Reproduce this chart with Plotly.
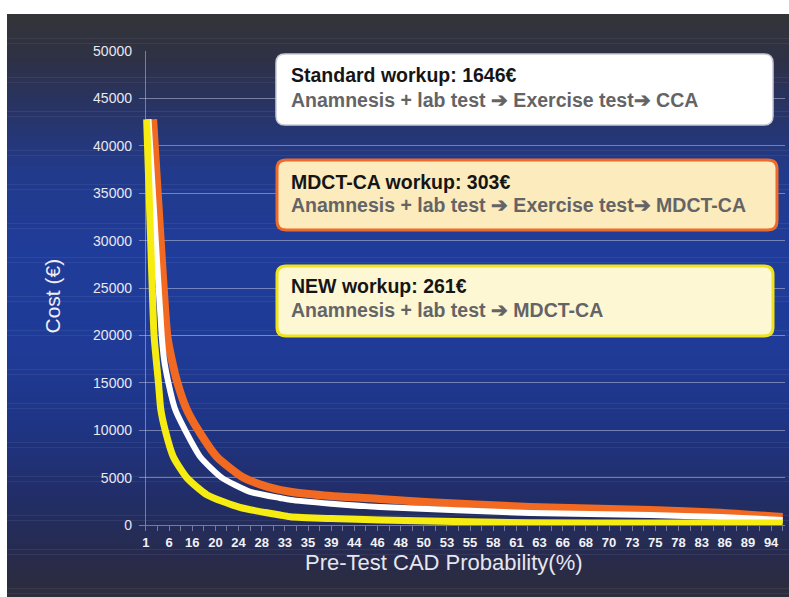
import plotly.graph_objects as go

# ---------------- data ----------------
x_labels = ["1", "6", "16", "20", "24", "28", "33", "35", "39", "44", "46", "48", "50", "53",
            "55", "58", "61", "63", "66", "68", "70", "73", "75", "78", "83", "86", "89", "94"]

# x positions are in category-index units (0 = "1", 27 = "94")
orange_x = [0.31, 0.61, 0.92, 1.11, 1.36, 1.76, 2.26, 3.06, 4.21, 5.22, 6.23, 8.0, 10.11, 12.27, 16.6, 21.8, 24.8, 27.5]
orange_y = [42800, 31000, 20000, 17500, 15000, 12200, 10000, 7200, 5000, 4050, 3500, 3050, 2750, 2400, 1900, 1580, 1300, 840]

white_x = [0.11, 0.40, 0.68, 0.78, 0.97, 1.26, 1.69, 2.34, 3.27, 4.5, 5.79, 6.23, 8.0, 10.11, 16.6, 21.8, 24.8, 27.5]
white_y = [42800, 31000, 20000, 17500, 15000, 12200, 10000, 7200, 5000, 3500, 2850, 2650, 2250, 1900, 1270, 1050, 850, 530]

yellow_x = [0.03, 0.19, 0.35, 0.44, 0.54, 0.64, 0.83, 1.18, 1.76, 2.63, 4.06, 5.79, 6.23, 8.0, 10.11, 16.6, 22.0, 27.5]
yellow_y = [42800, 31000, 20000, 17500, 15000, 12200, 10000, 7200, 5000, 3200, 1850, 1050, 870, 680, 530, 230, 210, 200]

box_titles = ["Standard workup: 1646€", "MDCT-CA workup: 303€", "NEW workup: 261€"]
box_paths = ["Anamnesis + lab test ➔ Exercise test➔ CCA",
             "Anamnesis + lab test ➔ Exercise test➔ MDCT-CA",
             "Anamnesis + lab test ➔ MDCT-CA"]

# ---------------- layout geometry (reference pixels) ----------------
W, H = 789, 597
L, R, T, B = 139, 785, 51, 525


def px(xr):
    return (xr - L) / (R - L)


def py(yr):
    return (B - yr) / (B - T)


def lerp_color(c1, c2, t):
    a = [int(c1[i:i + 2], 16) for i in (1, 3, 5)]
    b = [int(c2[i:i + 2], 16) for i in (1, 3, 5)]
    return "#%02x%02x%02x" % tuple(round(a[k] + (b[k] - a[k]) * t) for k in range(3))


stops = [(14, "#333438"), (60, "#2e3146"), (110, "#283466"), (170, "#223a8a"),
         (250, "#203c9a"), (350, "#1f3b97"), (430, "#1f3483"), (500, "#212d66"),
         (560, "#282b4b"), (597, "#2d2d3b")]


def grad_color(yp):
    for (y0, c0), (y1, c1) in zip(stops[:-1], stops[1:]):
        if y0 <= yp <= y1:
            return lerp_color(c0, c1, (yp - y0) / (y1 - y0))
    return stops[-1][1]


shapes = []
n = 120
top, bot = 14, 598
for k in range(n):
    y0 = top + (bot - top) * k / n
    y1 = top + (bot - top) * (k + 1) / n
    shapes.append(dict(type="rect", xref="paper", yref="paper",
                       x0=px(7), x1=px(800), y0=py(y1 + 0.5), y1=py(y0),
                       fillcolor=grad_color((y0 + y1) / 2), line=dict(width=0), layer="below"))


def rrect(x0, y0, x1, y1, r):
    def P(a, b):
        return "%f,%f" % (px(a), py(b))
    d = "M " + P(x0 + r, y0)
    d += " L " + P(x1 - r, y0)
    d += " Q " + P(x1, y0) + " " + P(x1, y0 + r)
    d += " L " + P(x1, y1 - r)
    d += " Q " + P(x1, y1) + " " + P(x1 - r, y1)
    d += " L " + P(x0 + r, y1)
    d += " Q " + P(x0, y1) + " " + P(x0, y1 - r)
    d += " L " + P(x0, y0 + r)
    d += " Q " + P(x0, y0) + " " + P(x0 + r, y0) + " Z"
    return d


boxes = [
    dict(rect=(276, 54, 773, 125), fill="#ffffff", border="#c9cad6", bw=1.5, ty=(75, 100)),
    dict(rect=(277, 160, 777, 230), fill="#fcebbd", border="#ec6a2c", bw=3, ty=(182, 205)),
    dict(rect=(277, 266, 773, 336), fill="#fdf7d4", border="#efe31c", bw=3, ty=(286, 310)),
]

FONT = "Arial, Liberation Sans"
annotations = []
for b, t1, t2 in zip(boxes, box_titles, box_paths):
    shapes.append(dict(type="path", xref="paper", yref="paper", path=rrect(*b["rect"], 9),
                       fillcolor=b["fill"], line=dict(color=b["border"], width=b["bw"]), layer="above"))
    annotations.append(dict(x=px(289), y=py(b["ty"][0]), xref="paper", yref="paper",
                            xanchor="left", yanchor="middle", showarrow=False,
                            text="<b>" + t1 + "</b>",
                            font=dict(family=FONT, size=19.5, color="#151515")))
    annotations.append(dict(x=px(289), y=py(b["ty"][1]), xref="paper", yref="paper",
                            xanchor="left", yanchor="middle", showarrow=False,
                            text="<b>" + t2 + "</b>",
                            font=dict(family=FONT, size=19.5, color="#646466")))

annotations.append(dict(x=px(38), y=py(296), xref="paper", yref="paper", textangle=-90,
                        showarrow=False, text="Cost (€)",
                        font=dict(family=FONT, size=21, color="#eeeef4")))
annotations.append(dict(x=px(444), y=py(577), xref="paper", yref="paper",
                        showarrow=False, text="Pre-Test CAD Probability(%)",
                        font=dict(family=FONT, size=22, color="#e6e6ee")))

fig = go.Figure()
fig.add_trace(go.Scatter(x=orange_x, y=orange_y, mode="lines", hoverinfo="skip",
                         line=dict(color="#f26a22", width=8, shape="spline", smoothing=0.6)))
fig.add_trace(go.Scatter(x=white_x, y=white_y, mode="lines", hoverinfo="skip",
                         line=dict(color="#ffffff", width=6, shape="spline", smoothing=0.6)))
fig.add_trace(go.Scatter(x=yellow_x, y=yellow_y, mode="lines", hoverinfo="skip",
                         line=dict(color="#f7ec12", width=7, shape="spline", smoothing=0.6)))

grid_col = "rgba(185,190,215,0.55)"
fig.update_layout(
    width=W, height=H,
    margin=dict(l=L, r=W - R, t=T, b=H - B, pad=0),
    paper_bgcolor="#ffffff", plot_bgcolor="rgba(0,0,0,0)",
    showlegend=False,
    shapes=shapes, annotations=annotations,
    xaxis=dict(range=[-0.3, 27.6], tickmode="array", tickvals=list(range(len(x_labels))),
               ticktext=x_labels, showgrid=False, zeroline=True, zerolinecolor=grid_col,
               zerolinewidth=1, showline=True, linecolor=grid_col, linewidth=1,
               ticks="outside", ticklen=5, tickcolor=grid_col,
               minor=dict(tickmode="array", tickvals=[i + 0.5 for i in range(len(x_labels))],
                          ticks="outside", ticklen=5, tickcolor=grid_col, showgrid=False),
               tickfont=dict(family=FONT, size=13, color="#f2f2f6", weight="bold"),
               fixedrange=True),
    yaxis=dict(range=[0, 50000], dtick=5000, tickformat="d", showgrid=True,
               gridcolor=grid_col, gridwidth=1, zeroline=False, ticks="",
               ticklabelstandoff=6,
               tickfont=dict(family=FONT, size=14, color="#e8e8f0"),
               fixedrange=True),
)

fig.write_html("out.html", config={"displayModeBar": False, "staticPlot": True},
               post_script="document.body.style.margin='0';document.body.style.overflow='hidden';")
